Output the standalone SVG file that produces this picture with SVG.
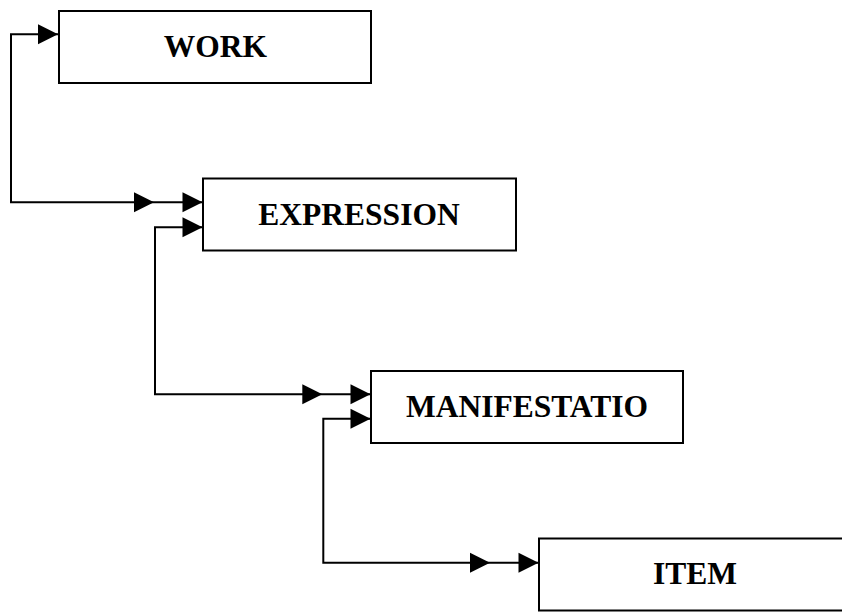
<svg xmlns="http://www.w3.org/2000/svg" width="842" height="612" viewBox="0 0 842 612">
<style>
.box{fill:#fff;stroke:#000;stroke-width:2}
.lbl{font-family:"Liberation Serif","Times New Roman",serif;font-weight:bold;font-size:31.5px;text-anchor:middle;fill:#000}
.ln{fill:none;stroke:#000;stroke-width:2}
.ah{fill:#000}
</style>
<rect width="842" height="612" fill="#fff"/>
<g id="connectors">
<path class="ln" d="M58,34.3 H11 V202.3 H202"/>
<polygon class="ah" points="38,24.3 58,34.3 38,44.3"/>
<polygon class="ah" points="134,192.3 154,202.3 134,212.3"/>
<polygon class="ah" points="182.5,192.3 202.5,202.3 182.5,212.3"/>
<path class="ln" d="M202,227.3 H155 V394.3 H370"/>
<polygon class="ah" points="182.5,217.3 202.5,227.3 182.5,237.3"/>
<polygon class="ah" points="302.3,384.3 322.3,394.3 302.3,404.3"/>
<polygon class="ah" points="350.5,384.3 370.5,394.3 350.5,404.3"/>
<path class="ln" d="M370,418.7 H323.3 V562.7 H538"/>
<polygon class="ah" points="350.5,408.7 370.5,418.7 350.5,428.7"/>
<polygon class="ah" points="470,552.7 490,562.7 470,572.7"/>
<polygon class="ah" points="518.5,552.7 538.5,562.7 518.5,572.7"/>
</g>
<g id="work">
<rect class="box" x="59" y="11" width="312" height="72"/>
<text class="lbl" x="215.5" y="57.3">WORK</text>
</g>
<g id="expression">
<rect class="box" x="203" y="178.5" width="313" height="72"/>
<text class="lbl" x="359" y="225">EXPRESSION</text>
</g>
<g id="manifestation">
<rect class="box" x="371" y="371" width="312" height="72"/>
<text class="lbl" x="527" y="416.5">MANIFESTATIO</text>
</g>
<g id="item">
<rect class="box" x="539" y="538.5" width="312" height="72"/>
<text class="lbl" x="695" y="584.3">ITEM</text>
</g>
</svg>
